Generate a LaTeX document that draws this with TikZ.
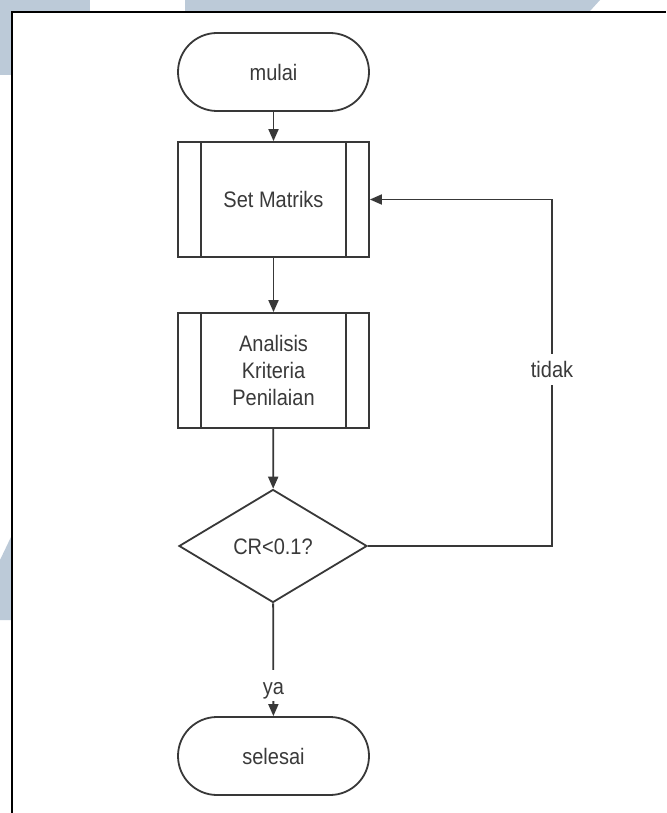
\documentclass[tikz,border=0pt]{standalone}
\usepackage{graphicx}
\usepackage{fontspec}
\setmainfont{Liberation Sans}
\usetikzlibrary{arrows.meta,shapes.geometric}
\definecolor{ink}{HTML}{383838}
\definecolor{txt}{HTML}{3A3A3A}
\definecolor{wash}{HTML}{BCCAD8}
% slightly tall lettering, set a little low in its box
\newcommand\tallText[1]{\raisebox{-3pt}[\height][\depth]{\scalebox{1}[1.12]{\begin{tabular}{@{}c@{}}#1\end{tabular}}}}
\tikzset{
  base/.style={draw=ink, line width=1.8pt, fill=white, text=txt, align=center,
    font=\fontsize{20}{24}\selectfont, inner sep=0pt},
  term/.style={base, rectangle, rounded corners=39pt, minimum width=191pt, minimum height=78pt},
  proc/.style={base, rectangle, minimum width=191pt, minimum height=115pt},
  decide/.style={base, diamond, aspect=1.664, minimum width=188pt, minimum height=113pt},
  flow/.style={draw=ink, line width=1.8pt, -{Triangle[length=12pt,width=10pt]}},
  bar/.style={draw=ink, line width=1.8pt},
  lbl/.style={fill=white, text=txt, font=\fontsize{20}{24}\selectfont, inner sep=2pt},
  frameline/.style={draw=black, line width=2pt}
}
\begin{document}
\begin{tikzpicture}[x=1pt, y=-1pt]
  \useasboundingbox (0,0) rectangle (666,813);
  \fill[white] (0,0) rectangle (666,813);
  % pale wash along the top and left edges
  \fill[wash] (0,0) rectangle (90,11);
  \fill[wash] (185,0) -- (600,0) -- (590,11) -- (185,11) -- cycle;
  \fill[wash] (0,0) rectangle (11,75);
  \fill[wash] (0,560) -- (11,537) -- (11,620) -- (0,620) -- cycle;
  % page frame
  \draw[frameline] (12,813) -- (12,12) -- (666,12);

  % flowchart nodes
  \node[term] (start) at (273.5,72) {\tallText{mulai}};
  \node[proc] (sm) at (273.5,199.5) {\tallText{Set Matriks}};
  \draw[bar] ([xshift=24pt]sm.north west) -- ([xshift=24pt]sm.south west)
             ([xshift=-24pt]sm.north east) -- ([xshift=-24pt]sm.south east);
  \node[proc] (akp) at (273.5,370.5) {\tallText{Analisis\\Kriteria\\Penilaian}};
  \draw[bar] ([xshift=24pt]akp.north west) -- ([xshift=24pt]akp.south west)
             ([xshift=-24pt]akp.north east) -- ([xshift=-24pt]akp.south east);
  \node[decide] (cr) at (273,546) {\tallText{CR<0.1?}};
  \node[term] (end) at (273.5,756) {\tallText{selesai}};
  \coordinate (loopx) at (552,0);

  % connectors
  \draw[flow] (start) -- (sm);
  \draw[flow] (sm) -- (akp);
  \draw[flow] (akp) -- (cr);
  \draw[flow] (cr) -- node[lbl, pos=0.73] {\tallText{ya}} (end);
  \draw[flow] (cr.east) -- (cr.east -| loopx) -- node[lbl, pos=0.51] {\tallText{tidak}} (sm.east -| loopx) -- (sm.east);
\end{tikzpicture}
\end{document}
